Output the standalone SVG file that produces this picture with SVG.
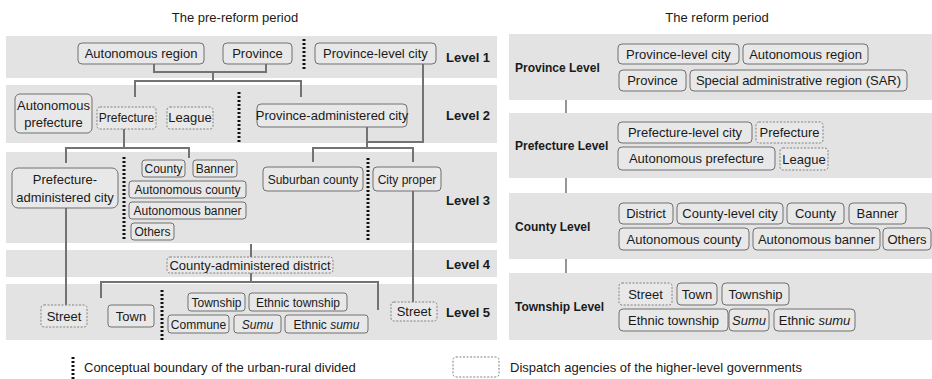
<svg xmlns="http://www.w3.org/2000/svg" width="932" height="379" viewBox="0 0 932 379">
<style>
text{font-family:"Liberation Sans",Arial,sans-serif;font-size:13px;fill:#1a1a1a}
.t{text-anchor:middle}
.s{font-size:12px}
.b{font-weight:bold}
.rl{font-weight:bold;font-size:12px}
.band{fill:#e3e3e3}
.n{fill:#e8e8e8;stroke:#707070;stroke-width:1}
.d{fill:#e8e8e8;stroke:#808080;stroke-width:1;stroke-dasharray:2 1.5}
.c{fill:none;stroke:#737373;stroke-width:2}
.c2{fill:none;stroke:#737373;stroke-width:1.5}
.dot{stroke:#111;stroke-width:3;stroke-dasharray:2 2}
.i{font-style:italic}
</style>
<rect width="932" height="379" fill="#fff"/>
<g id="titles">
<text class="t" x="235" y="22">The pre-reform period</text>
<text class="t" x="717" y="22">The reform period</text>
</g>
<g id="bands">
<rect class="band" x="6" y="36" width="491" height="42"/>
<rect class="band" x="6" y="85" width="491" height="58"/>
<rect class="band" x="6" y="152" width="491" height="91"/>
<rect class="band" x="6" y="250" width="491" height="27"/>
<rect class="band" x="6" y="284" width="491" height="56"/>
<rect class="band" x="509" y="34" width="423" height="66"/>
<rect class="band" x="509" y="113" width="423" height="65"/>
<rect class="band" x="509" y="193" width="423" height="66"/>
<rect class="band" x="509" y="273" width="423" height="67"/>
</g>
<g id="level-labels">
<text class="b" x="446" y="62">Level 1</text>
<text class="b" x="446" y="120">Level 2</text>
<text class="b" x="446" y="205">Level 3</text>
<text class="b" x="446" y="269">Level 4</text>
<text class="b" x="446" y="317">Level 5</text>
<text class="rl" x="515" y="72">Province Level</text>
<text class="rl" x="515" y="150">Prefecture Level</text>
<text class="rl" x="515" y="231">County Level</text>
<text class="rl" x="515" y="311">Township Level</text>
</g>
<g id="connectors">
<polyline class="c" points="154,64 154,72 266,72 266,64"/>
<line class="c" x1="213" y1="72" x2="213" y2="81"/>
<polyline class="c" points="135,97 135,81 301,81 301,97"/>
<polyline class="c" points="423,64 423,142 367,142"/>
<line class="c" x1="367" y1="127" x2="367" y2="148"/>
<polyline class="c" points="313,162 313,148 413,148 413,162"/>
<line class="c" x1="124" y1="129" x2="124" y2="148"/>
<polyline class="c" points="66,163 66,148 189,148 189,158"/>
<line class="c" x1="66" y1="208" x2="66" y2="305"/>
<line class="c" x1="413" y1="191" x2="413" y2="302"/>
<line class="c" x1="251" y1="244" x2="251" y2="257"/>
<line class="c" x1="251" y1="273" x2="251" y2="282"/>
<polyline class="c" points="101,298 101,282 378,282 378,310"/>
<line class="c2" x1="566" y1="100" x2="566" y2="113"/>
<line class="c2" x1="566" y1="178" x2="566" y2="193"/>
<line class="c2" x1="566" y1="259" x2="566" y2="273"/>
</g>
<g id="boundaries">
<line class="dot" x1="304" y1="39" x2="304" y2="71"/>
<line class="dot" x1="239" y1="92" x2="239" y2="142"/>
<line class="dot" x1="124" y1="157" x2="124" y2="241"/>
<line class="dot" x1="368" y1="158" x2="368" y2="241"/>
<line class="dot" x1="162" y1="290" x2="162" y2="340"/>
</g>
<g id="n-autonomous-region"><rect class="n" x="78" y="43" width="126" height="21" rx="4"/><text class="t" x="141" y="58">Autonomous region</text></g>
<g id="n-province"><rect class="n" x="223" y="43" width="69" height="21" rx="4"/><text class="t" x="257.5" y="58">Province</text></g>
<g id="n-province-level-city"><rect class="n" x="315" y="43" width="121" height="21" rx="4"/><text class="t" x="375.5" y="58">Province-level city</text></g>
<g id="n-autonomous-prefecture"><rect class="n" x="15" y="94" width="77" height="39" rx="5"/><text class="t" x="53.5" y="110">Autonomous</text><text class="t" x="53.5" y="127">prefecture</text></g>
<g id="n-prefecture"><rect class="d" x="97" y="107" width="59" height="22" rx="3"/><text class="t s" x="126.5" y="122">Prefecture</text></g>
<g id="n-league"><rect class="d" x="167" y="107" width="46" height="22" rx="3"/><text class="t" x="190" y="122">League</text></g>
<g id="n-province-administered-city"><rect class="n" x="257" y="104" width="150" height="23" rx="4"/><text class="t" x="332" y="120">Province-administered city</text></g>
<g id="n-prefecture-administered-city"><rect class="n" x="12" y="168" width="106" height="40" rx="6"/><text class="t" x="65" y="184">Prefecture-</text><text class="t" x="65" y="202">administered city</text></g>
<g id="n-county"><rect class="n" x="142" y="160" width="43" height="17" rx="3"/><text class="t s" x="163.5" y="173">County</text></g>
<g id="n-banner"><rect class="n" x="193" y="160" width="44" height="17" rx="3"/><text class="t s" x="215" y="173">Banner</text></g>
<g id="n-autonomous-county"><rect class="n" x="129" y="181" width="117" height="17" rx="3"/><text class="t s" x="187.5" y="194">Autonomous county</text></g>
<g id="n-autonomous-banner"><rect class="n" x="129" y="202" width="117" height="17" rx="3"/><text class="t s" x="187.5" y="215">Autonomous banner</text></g>
<g id="n-others"><rect class="n" x="131" y="223" width="43" height="17" rx="3"/><text class="t s" x="152.5" y="236">Others</text></g>
<g id="n-suburban-county"><rect class="n" x="263" y="167" width="100" height="24" rx="4"/><text class="t s" x="313" y="183.5">Suburban county</text></g>
<g id="n-city-proper"><rect class="n" x="373" y="167" width="68" height="24" rx="4"/><text class="t s" x="407" y="183.5">City proper</text></g>
<g id="n-county-administered-district"><rect class="d" x="167" y="257" width="166" height="16" rx="3"/><text class="t" x="250" y="269.5">County-administered district</text></g>
<g id="n-street-left"><rect class="d" x="41" y="305" width="46" height="22" rx="3"/><text class="t" x="64" y="320.5">Street</text></g>
<g id="n-town"><rect class="n" x="108" y="305" width="46" height="22" rx="3"/><text class="t" x="131" y="320.5">Town</text></g>
<g id="n-township"><rect class="n" x="188" y="293" width="57" height="18" rx="3"/><text class="t s" x="216.5" y="306.5">Township</text></g>
<g id="n-ethnic-township"><rect class="n" x="249" y="293" width="98" height="18" rx="3"/><text class="t s" x="298" y="306.5">Ethnic township</text></g>
<g id="n-commune"><rect class="n" x="168" y="315" width="61" height="18" rx="3"/><text class="t s" x="198.5" y="328.5">Commune</text></g>
<g id="n-sumu"><rect class="n" x="234" y="315" width="47" height="18" rx="3"/><text class="t i s" x="257.5" y="328.5">Sumu</text></g>
<g id="n-ethnic-sumu"><rect class="n" x="285" y="315" width="83" height="18" rx="3"/><text class="t s" x="326.5" y="328.5">Ethnic <tspan class="i">sumu</tspan></text></g>
<g id="n-street-right"><rect class="d" x="391" y="302" width="46" height="19" rx="3"/><text class="t" x="414" y="316">Street</text></g>
<g id="r-province-level-city"><rect class="n" x="618" y="44" width="121" height="20" rx="4"/><text class="t" x="678.5" y="58.5">Province-level city</text></g>
<g id="r-autonomous-region"><rect class="n" x="743" y="44" width="125" height="20" rx="4"/><text class="t" x="805.5" y="58.5">Autonomous region</text></g>
<g id="r-province"><rect class="n" x="619" y="70" width="67" height="21" rx="4"/><text class="t" x="652.5" y="85">Province</text></g>
<g id="r-sar"><rect class="n" x="690" y="70" width="217" height="21" rx="4"/><text class="t" x="798.5" y="85">Special administrative region (SAR)</text></g>
<g id="r-prefecture-level-city"><rect class="n" x="618" y="122" width="134" height="21" rx="4"/><text class="t" x="685" y="137">Prefecture-level city</text></g>
<g id="r-prefecture"><rect class="d" x="756" y="122" width="67" height="21" rx="3"/><text class="t" x="789.5" y="137">Prefecture</text></g>
<g id="r-autonomous-prefecture"><rect class="n" x="618" y="147" width="157" height="23" rx="4"/><text class="t" x="696.5" y="163">Autonomous prefecture</text></g>
<g id="r-league"><rect class="d" x="780" y="148" width="48" height="22" rx="3"/><text class="t" x="804" y="163.5">League</text></g>
<g id="r-district"><rect class="n" x="619" y="203" width="54" height="21" rx="4"/><text class="t" x="646" y="218">District</text></g>
<g id="r-county-level-city"><rect class="n" x="677" y="203" width="106" height="21" rx="4"/><text class="t" x="730" y="218">County-level city</text></g>
<g id="r-county"><rect class="n" x="787" y="203" width="57" height="21" rx="4"/><text class="t" x="815.5" y="218">County</text></g>
<g id="r-banner"><rect class="n" x="849" y="203" width="57" height="21" rx="4"/><text class="t" x="877.5" y="218">Banner</text></g>
<g id="r-autonomous-county"><rect class="n" x="619" y="228" width="130" height="22" rx="4"/><text class="t" x="684" y="243.5">Autonomous county</text></g>
<g id="r-autonomous-banner"><rect class="n" x="753" y="228" width="127" height="22" rx="4"/><text class="t" x="816.5" y="243.5">Autonomous banner</text></g>
<g id="r-others"><rect class="n" x="883" y="228" width="48" height="22" rx="4"/><text class="t" x="907" y="243.5">Others</text></g>
<g id="r-street"><rect class="d" x="619" y="283" width="53" height="22" rx="3"/><text class="t" x="645.5" y="298.5">Street</text></g>
<g id="r-town"><rect class="n" x="677" y="283" width="40" height="22" rx="4"/><text class="t" x="697" y="298.5">Town</text></g>
<g id="r-township"><rect class="n" x="722" y="283" width="67" height="22" rx="4"/><text class="t" x="755.5" y="298.5">Township</text></g>
<g id="r-ethnic-township"><rect class="n" x="619" y="309" width="109" height="22" rx="4"/><text class="t" x="673.5" y="324.5">Ethnic township</text></g>
<g id="r-sumu"><rect class="n" x="729" y="309" width="40" height="22" rx="4"/><text class="t i" x="749" y="324.5">Sumu</text></g>
<g id="r-ethnic-sumu"><rect class="n" x="774" y="309" width="81" height="22" rx="4"/><text class="t" x="814.5" y="324.5">Ethnic <tspan class="i">sumu</tspan></text></g>
<g id="legend">
<line class="dot" x1="73" y1="357" x2="73" y2="379"/>
<text x="84" y="372" font-size="12.5">Conceptual boundary of the urban-rural divided</text>
<rect x="453" y="357" width="46" height="20" rx="3" fill="#fff" stroke="#808080" stroke-dasharray="2 1.5"/>
<text x="510" y="372" font-size="12.5">Dispatch agencies of the higher-level governments</text>
</g>
</svg>
